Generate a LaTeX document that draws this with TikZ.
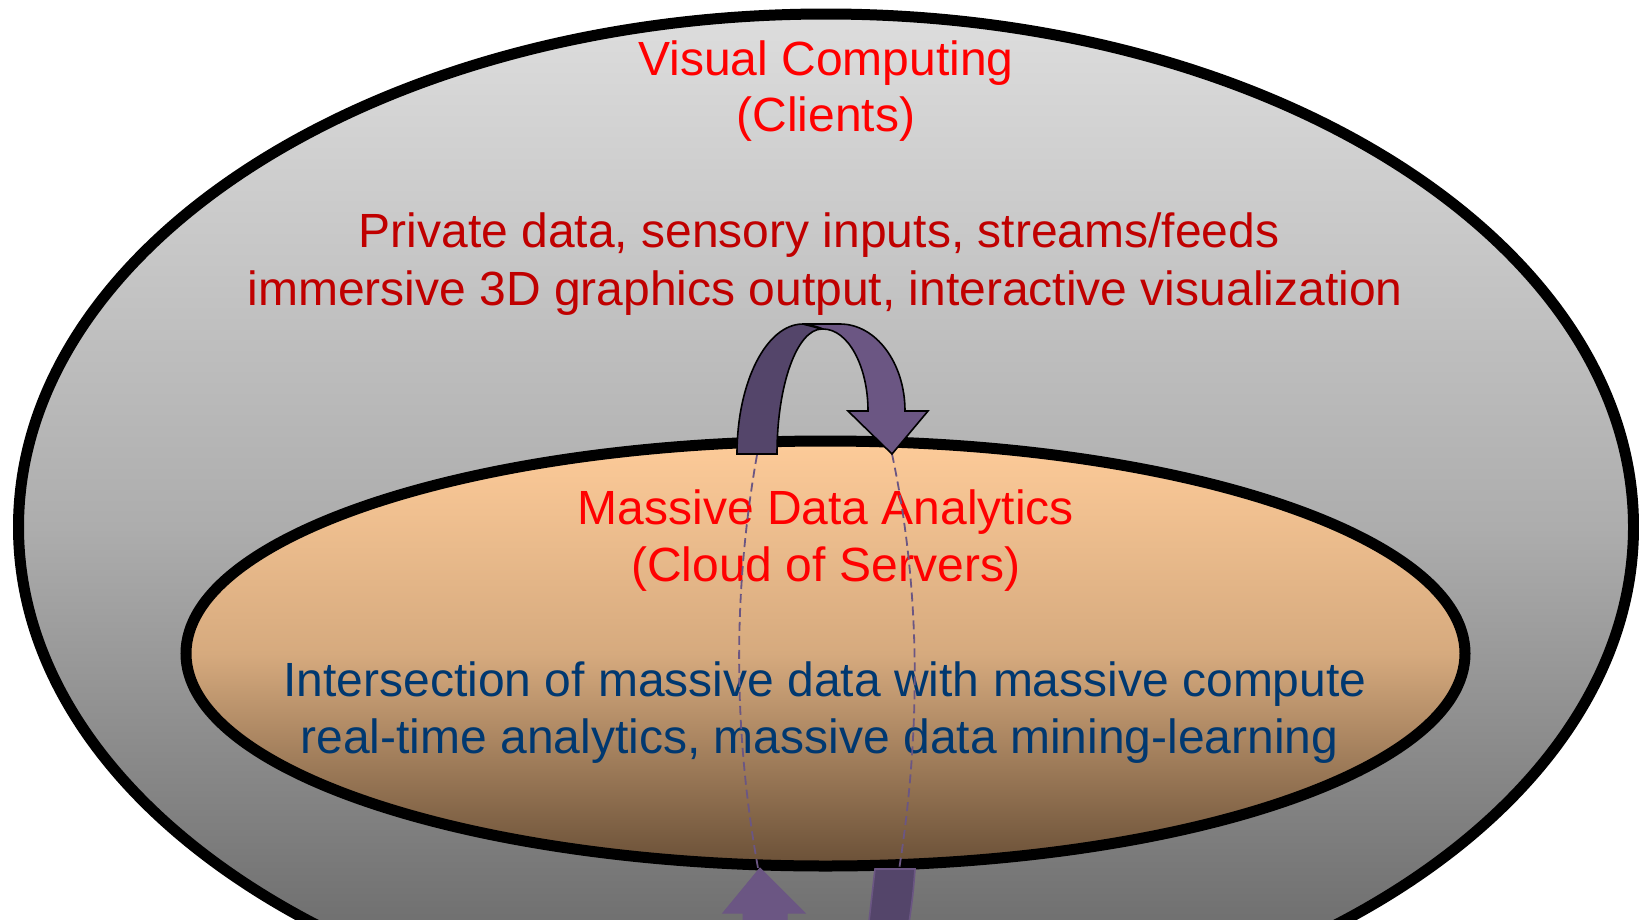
\documentclass[tikz,border=0pt]{standalone}
\usepackage{fontspec}
\setmainfont{Liberation Sans}
\usetikzlibrary{shapes.geometric}

\definecolor{outerTop}{HTML}{DDDDDD}
\definecolor{outerMid}{HTML}{ADADAD}
\definecolor{outerBot}{HTML}{5E5E5E}
\definecolor{innerTop}{HTML}{FDCB99}
\definecolor{innerMid}{HTML}{D6AA7E}
\definecolor{innerBot}{HTML}{6A5037}
\definecolor{titleRed}{HTML}{FF0000}
\definecolor{bodyRed}{HTML}{C00000}
\definecolor{bodyBlue}{HTML}{003870}
\definecolor{purpleDark}{HTML}{54456A}
\definecolor{purpleLight}{HTML}{6B5683}

\begin{document}
\begin{tikzpicture}[x=1pt,y=-1pt,
  ring/.style={ellipse, draw=black, line width=11pt, inner sep=0pt},
  label/.style={font=\fontsize{48}{57}\selectfont, anchor=base, inner sep=0pt},
  bandDark/.style={fill=purpleDark, draw=black, line width=1.6pt, line join=miter},
  bandLight/.style={fill=purpleLight, draw=black, line width=1.6pt, line join=miter},
  lowDark/.style={fill=purpleDark, draw=purpleLight, line width=1.6pt},
  lowLight/.style={fill=purpleLight, draw=purpleLight, line width=1pt},
  link/.style={draw=purpleLight, line width=1.8pt, dash pattern=on 9pt off 5pt}
]
\useasboundingbox (0,0) rectangle (1639,919);
\clip (0,0) rectangle (1639,919);

% outer region: clients
\node[ring, minimum width=1615pt, minimum height=1026pt,
      top color=outerTop, bottom color=outerBot, middle color=outerMid]
      (clients) at (826,527) {};

% inner region: server cloud
\node[ring, minimum width=1279pt, minimum height=425pt,
      top color=innerTop, bottom color=innerBot, middle color=innerMid]
      (cloud) at (825.5,653.5) {};

% texts of the client region
\node[label, text=titleRed] (vcA) at (826,75.3) {Visual Computing};
\node[label, text=titleRed] (vcB) at (826,131.7) {(Clients)};
\node[label, text=bodyRed] (pdA) at (819,247.7) {Private data, sensory inputs, streams/feeds};
\node[label, text=bodyRed] (pdB) at (825,305.2) {immersive 3D graphics output, interactive visualization};

% texts of the server region
\node[label, text=titleRed] (mdA) at (826,524.7) {Massive Data Analytics};
\node[label, text=titleRed] (mdB) at (826,581.2) {(Cloud of Servers)};
\node[label, text=bodyBlue] (inA) at (825,696.2) {Intersection of massive data with massive compute};
\node[label, text=bodyBlue] (inB) at (819.5,753.6) {real-time analytics, massive data mining-learning};

% end points of the flow
\coordinate (footL) at (757,455);
\coordinate (tipT) at (892,454);
\coordinate (tipB) at (758,868);
\coordinate (bandB) at (899,870);

% dashed links through the server region
\draw[link] (footL) .. controls (733,590) and (733,730) .. (tipB);
\draw[link] (tipT) .. controls (921,590) and (921,730) .. (bandB);

% arch arrow above the server region
\path[bandDark] (737,454) -- (777,454)
  .. controls (777,385) and (797,329) .. (822,329)
  -- (803,324)
  .. controls (766.5,324) and (737,382) .. (737,454) -- cycle;
\path[bandLight] (803,324) -- (840,324)
  .. controls (876,324) and (905,363) .. (905,411)
  -- (928,411) -- (892,454) -- (848,411) -- (868,411)
  .. controls (868,366) and (848,329) .. (823,329)
  .. controls (815,326) .. (803,324) -- cycle;

% arrows entering from below
\path[lowLight] (760,868) -- (805,913) -- (787,913) -- (787,930)
  -- (743,930) -- (743,913) -- (723,913) -- cycle;
\path[lowDark] (875,869) -- (915,869) .. controls (913,895) .. (908,930)
  -- (868,930) .. controls (872,895) .. (875,869) -- cycle;
\end{tikzpicture}
\end{document}
